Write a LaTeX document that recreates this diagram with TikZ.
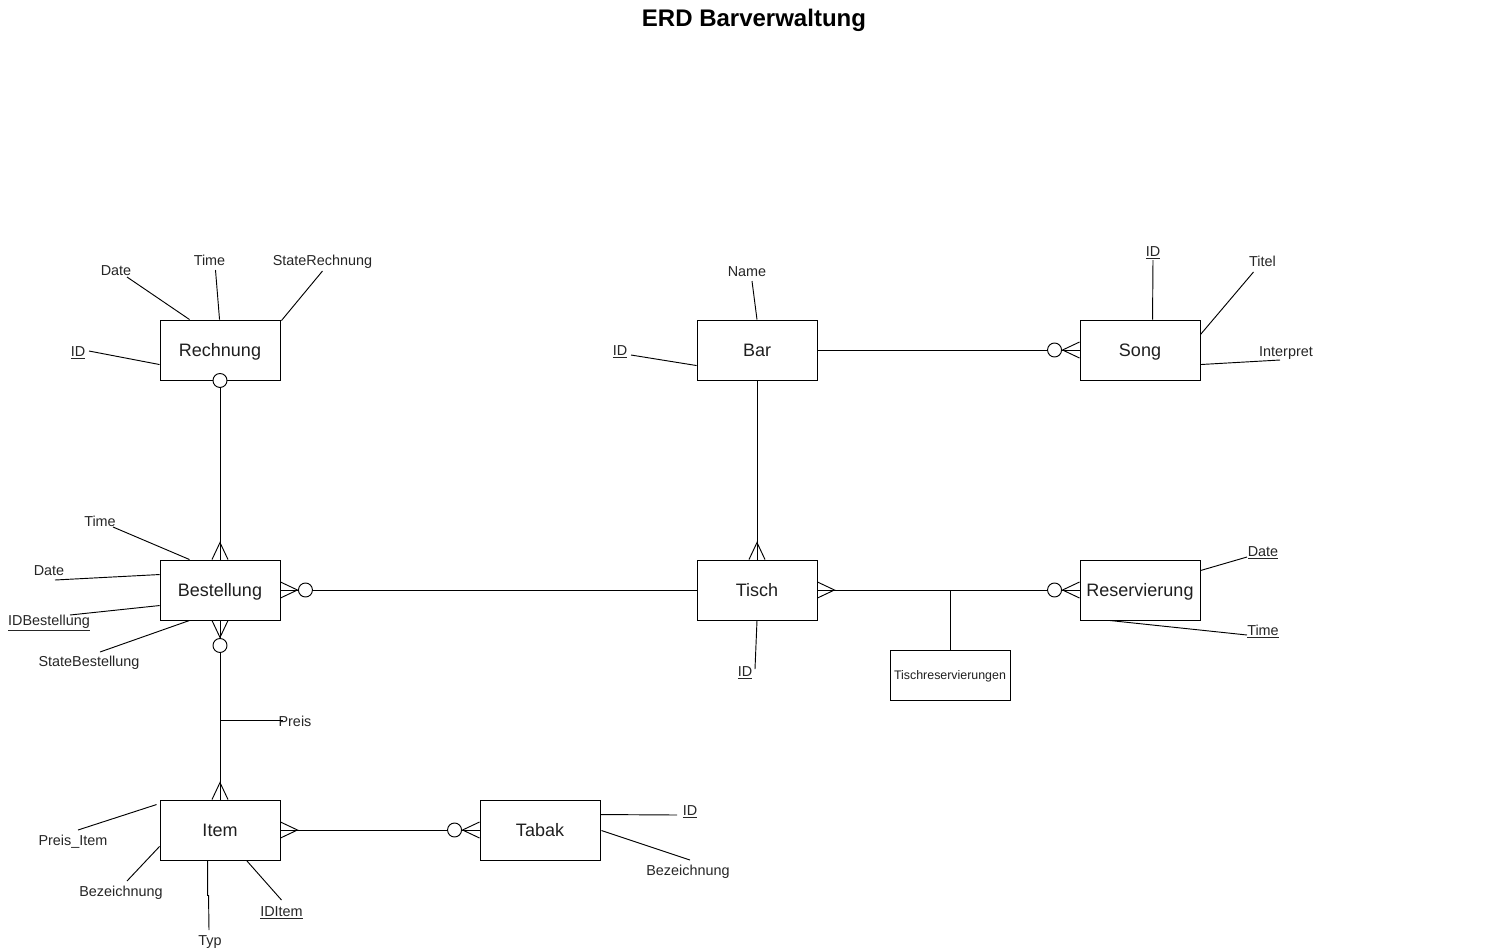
\documentclass[tikz,border=0pt]{standalone}
\usepackage{fontspec}
\setmainfont{Liberation Sans}
\usetikzlibrary{calc}

\begin{document}
\begin{tikzpicture}[x=0.75pt,y=-0.75pt,
  every path/.style={line width=0.7pt},
  entity/.style={draw, fill=white, minimum width=90pt, minimum height=45pt,
    inner sep=0pt, text height=9.6pt, text depth=0pt,
    font=\fontsize{13.5}{16}\selectfont, text=black!88},
  smallentity/.style={entity, minimum height=37.5pt, text height=6.6pt,
    font=\fontsize{9.3}{11}\selectfont},
  attr/.style={inner sep=0pt, text height=7.7pt, text depth=0pt,
    font=\fontsize{10.8}{12}\selectfont, text=black!85},
  crow/.pic={\draw (0,-8) -- (17,0) -- (0,8);},
  zcrow/.pic={\draw (0,-8) -- (17,0) -- (0,8);
    \draw[fill=white] (25,0) circle[radius=5.25pt];},
  zone/.pic={\draw[fill=white] (0,0) circle[radius=5.25pt];}
]
\useasboundingbox[fill=white] (0,0) rectangle (1511,951);

% title
\node[font=\bfseries\fontsize{18}{22}\selectfont] (title) at (754,20) {ERD Barverwaltung};

% entities
\node[entity] (rech)  at (220,350)  {Rechnung};
\node[entity] (bar)   at (757,350)  {Bar};
\node[entity] (song)  at (1140,350) {Song};
\node[entity] (best)  at (220,590)  {Bestellung};
\node[entity] (tisch) at (757,590)  {Tisch};
\node[entity] (res)   at (1140,590) {Reservierung};
\node[smallentity] (tres) at (950,675) {Tischreservierungen};
\node[entity] (item)  at (220,830)  {Item};
\node[entity] (tabak) at (540,830)  {Tabak};

% attributes: Rechnung
\node[attr] (rDate)  at (116,270)   {Date};
\node[attr] (rTime)  at (209.5,260) {Time};
\node[attr] (rState) at (322.5,260) {StateRechnung};
\node[attr] (rID)    at (78,351)    {\underline{ID}};
\draw ($(rDate)+(11,7)$)   -- ($(rech.north west)+(30,0)$);
\draw ($(rTime)+(6,10)$)   -- ($(rech.north west)+(60,0)$);
\draw ($(rState)+(0,11)$)  -- ($(rech.north east)+(1,1)$);
\draw ($(rID)+(11,0)$)     -- ($(rech.north west)+(0,45)$);

% attributes: Bestellung
\node[attr] (bTime)  at (100,521) {Time};
\node[attr] (bDate)  at (49,570)  {Date};
\node[attr] (bID)    at (49,620)  {\underline{IDBestellung}};
\node[attr] (bState) at (89,661)  {StateBestellung};
\draw ($(bTime)+(13,6)$)   -- ($(best.north west)+(30,0)$);
\draw ($(bDate)+(6,10)$)   -- ($(best.north west)+(0,15)$);
\draw ($(bID)+(21,-5)$)    -- ($(best.north west)+(0,46)$);
\draw ($(bState)+(11,-9)$) -- ($(best.south west)+(30,0)$);

% attributes: Item
\node[attr] (iPreis) at (73,840)    {Preis\_Item};
\node[attr] (iBez)   at (121,891)   {Bezeichnung};
\node[attr] (iTyp)   at (210,940)   {Typ};
\node[attr] (iID)    at (281.5,911) {\underline{IDItem}};
\draw ($(iPreis)+(5,-10)$) -- ($(item.north west)+(-3,5)$);
\draw ($(iBez)+(6,-10)$)   -- ($(item.south west)+(0,-14)$);
\draw ($(item.south west)+(48,0)$) -- ++(0,35) -- ++(1,0) -- ($(iTyp)+(-1,-10)$);
\draw ($(iID)+(0,-11)$)    -- ($(item.south west)+(87,0)$);

% attribute of the Bestellung--Item relationship
\node[attr] (pPreis) at (295,721) {Preis};
\coordinate (preisJ) at (220,720);
\draw (preisJ) -- ($(pPreis)+(-12,-1)$);

% attributes: Tabak
\node[attr] (tID)  at (690,810) {\underline{ID}};
\node[attr] (tBez) at (688,870) {Bezeichnung};
\draw ($(tabak.north east)+(0,15)$) -- ($(tID)+(-13,5)$);
\draw ($(tabak.north east)+(1,31)$) -- ($(tBez)+(2,-10)$);

% attributes: Bar
\node[attr] (barName) at (747,271) {Name};
\node[attr] (barID)   at (620,350) {\underline{ID}};
\draw ($(barName)+(5,10)$) -- (bar.north);
\draw ($(barID)+(11,5)$)   -- ($(bar.north west)+(0,46)$);

% attributes: Song
\node[attr] (sID)    at (1153,251)   {\underline{ID}};
\node[attr] (sTitel) at (1262.5,261) {Titel};
\node[attr] (sInt)   at (1286,351)   {Interpret};
\draw ($(sID)+(0,9)$)      -- ($(song.north west)+(73,0)$);
\draw ($(sTitel)+(-9,11)$) -- ($(song.north east)+(0,15)$);
\draw ($(song.north east)+(0,45)$) -- ($(sInt)+(-6,9)$);

% attributes: Tisch
\node[attr] (tiID) at (745,671) {\underline{ID}};
\draw (tisch.south) -- ($(tiID)+(10,-2)$);

% attributes: Reservierung
\node[attr] (rsDate) at (1263,551) {\underline{Date}};
\node[attr] (rsTime) at (1263,630) {\underline{Time}};
\draw ($(res.north east)+(0,11)$) -- ($(rsDate)+(-16,6)$);
\draw ($(res.south west)+(30,0)$) -- ($(rsTime)+(-16,5)$);

% relationships
\draw (rech.south)  -- (best.north);
\draw (best.east)   -- (tisch.west);
\draw (best.south)  -- (item.north);
\draw (bar.south)   -- (tisch.north);
\draw (bar.east)    -- (song.west);
\draw (tisch.east)  -- (res.west);
\draw (item.east)   -- (tabak.west);
\draw (tres.north)  -- (tres.north |- tisch.east);

% cardinality marks
\pic at (rech.south) {zone};
\pic[rotate=90]  at (best.north)  {crow};
\pic             at (best.east)   {zcrow};
\pic[rotate=-90] at (best.south)  {zcrow};
\pic[rotate=90]  at (item.north)  {crow};
\pic[rotate=90]  at (tisch.north) {crow};
\pic[rotate=180] at (song.west)   {zcrow};
\pic             at (tisch.east)  {crow};
\pic[rotate=180] at (res.west)    {zcrow};
\pic             at (item.east)   {crow};
\pic[rotate=180] at (tabak.west)  {zcrow};
\end{tikzpicture}
\end{document}
